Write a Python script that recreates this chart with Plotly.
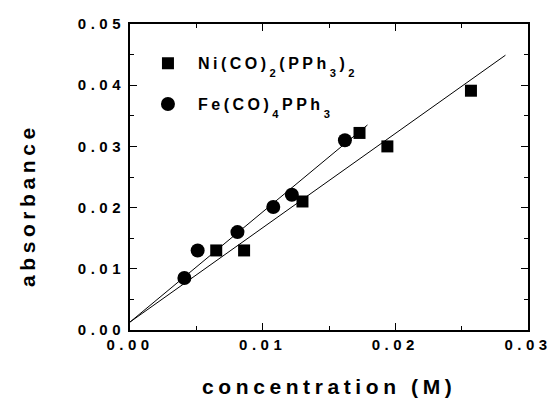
import plotly.graph_objects as go

# Data
ni_x = [0.0065, 0.0086, 0.0130, 0.0173, 0.0194, 0.0257]
ni_y = [0.0130, 0.0130, 0.0210, 0.0322, 0.0300, 0.0391]
fe_x = [0.0041, 0.0051, 0.0081, 0.0108, 0.0122, 0.0162]
fe_y = [0.0085, 0.0130, 0.0160, 0.0201, 0.0221, 0.0310]

# linear fits (end points)
ni_fit_x = [0.0, 0.0283]
ni_fit_y = [0.0013, 0.0449]
fe_fit_x = [0.0, 0.0179]
fe_fit_y = [0.0013, 0.0335]

x_ticks = [0.00, 0.01, 0.02, 0.03]
x_labels = ["0.00", "0.01", "0.02", "0.03"]
y_ticks = [0.00, 0.01, 0.02, 0.03, 0.04, 0.05]
y_labels = ["0.00", "0.01", "0.02", "0.03", "0.04", "0.05"]


def sub(t):
    return f'<sub><span style="baseline-shift:-4px">{t}</span></sub>'


ni_name = f"Ni(CO){sub(2)}(PPh{sub(3)}){sub(2)}"
fe_name = f"Fe(CO){sub(4)}PPh{sub(3)}"
x_title = "concentration (M)"
y_title = "absorbance"


def spaced(t, ls):
    return f'<span style="letter-spacing:{ls}px">{t}</span>'


FONT = "Liberation Sans, Arial, sans-serif"

fig = go.Figure()
fig.add_trace(go.Scatter(x=ni_fit_x, y=ni_fit_y, mode="lines",
                         line=dict(color="black", width=1), showlegend=False, hoverinfo="skip"))
fig.add_trace(go.Scatter(x=fe_fit_x, y=fe_fit_y, mode="lines",
                         line=dict(color="black", width=1), showlegend=False, hoverinfo="skip"))
fig.add_trace(go.Scatter(x=ni_x, y=ni_y, mode="markers", name=spaced(ni_name, 3.5),
                         legendgroup="ni",
                         marker=dict(symbol="square", size=12, color="black")))
fig.add_trace(go.Scatter(x=fe_x, y=fe_y, mode="markers", name=spaced(fe_name, 3.5),
                         legendgroup="fe",
                         marker=dict(symbol="circle", size=14, color="black")))

axis_common = dict(
    showgrid=False, zeroline=False, showline=True, linecolor="black", linewidth=2,
    mirror="allticks", ticks="inside", ticklen=7, tickwidth=1.2, tickcolor="black",
    tickfont=dict(family=FONT, size=15, color="black", weight="bold"),
    ticklabeloverflow="allow", automargin=False,
)

fig.update_xaxes(
    range=[0, 0.03], tickvals=x_ticks, ticktext=[spaced(t, 4.5) for t in x_labels],
    minor=dict(dtick=0.005, ticks="inside", ticklen=4, tickwidth=1.2, tickcolor="black"),
    **axis_common)
fig.update_yaxes(
    range=[0, 0.05], tickvals=y_ticks, ticktext=[spaced(t, 4.5) for t in y_labels],
    minor=dict(dtick=0.005, ticks="inside", ticklen=4, tickwidth=1.2, tickcolor="black"),
    **axis_common)

title_font = dict(family=FONT, size=21, color="black", weight="bold")
fig.add_annotation(text=spaced(x_title, 4.6), xref="paper", yref="paper",
                   x=0.5, y=-0.186, xanchor="center", yanchor="middle",
                   showarrow=False, font=title_font)
fig.add_annotation(text=spaced(y_title, 4.6), xref="paper", yref="paper",
                   x=-0.259, y=0.408, xanchor="center", yanchor="middle", textangle=-90,
                   showarrow=False, font=title_font)

fig.update_layout(
    width=551, height=400,
    margin=dict(l=130, r=23, t=24, b=70),
    paper_bgcolor="white", plot_bgcolor="white",
    showlegend=True,
    legend=dict(x=0.02, y=0.927, xanchor="left", yanchor="top",
                bgcolor="rgba(0,0,0,0)", traceorder="grouped", tracegroupgap=17,
                itemwidth=50,
                font=dict(family=FONT, size=16, color="black", weight="bold")),
)

# remove the default 8px page margin so the 551x400 figure fills the window
fig.write_html("out.html",
               config={"displayModeBar": False},
               post_script="document.body.style.margin='0';document.body.style.overflow='hidden';")
